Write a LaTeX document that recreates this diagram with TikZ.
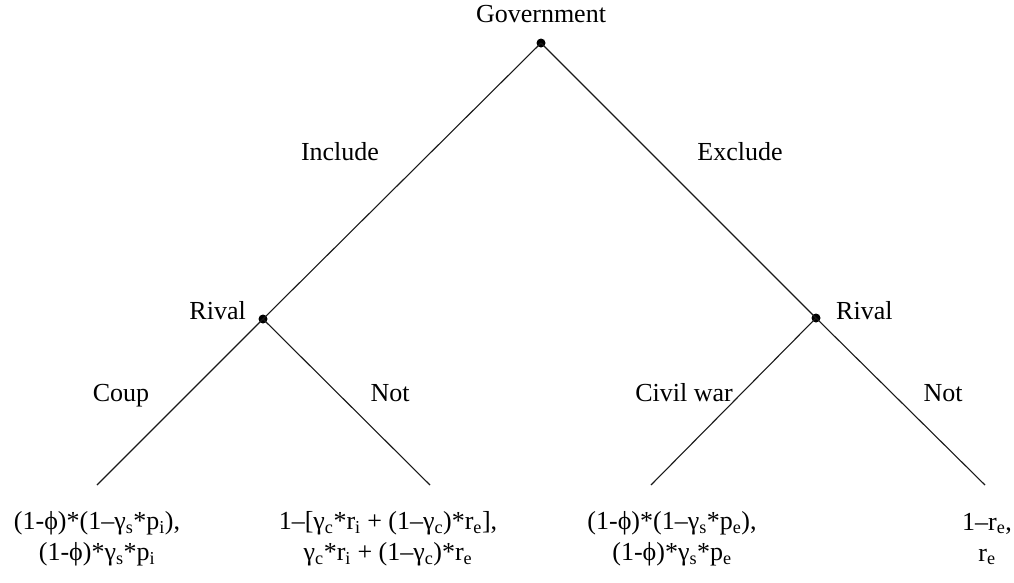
\documentclass[tikz,border=0pt]{standalone}
\usepackage{fontspec}
\setmainfont{Liberation Serif}
\newcommand\sbs[1]{\textsubscript{#1}}
\begin{document}
\begin{tikzpicture}[x=1pt,y=-1pt,
  every node/.style={font=\fontsize{26}{31}\selectfont, inner sep=0pt},
  dotnode/.style={circle, fill=black, minimum size=9pt, inner sep=0pt},
  lbl/.style={anchor=base},
  payoff/.style={align=center, anchor=center},
  branch/.style={line width=1.1pt, black!90}]
\useasboundingbox (0,0) rectangle (1014,582);
\node[dotnode] (g) at (541,43) {};
\node[dotnode] (r1) at (263,319) {};
\node[dotnode] (r2) at (816,318) {};
\coordinate (l1) at (97,485);
\coordinate (l2) at (430,485);
\coordinate (l3) at (651,485);
\coordinate (l4) at (985,485);
\draw[branch] (g.center) -- (r1.center);
\draw[branch] (g.center) -- (r2.center);
\draw[branch] (r1.center) -- (l1);
\draw[branch] (r1.center) -- (l2);
\draw[branch] (r2.center) -- (l3);
\draw[branch] (r2.center) -- (l4);
\node[lbl] (tg) at (541,22) {Government};
\node[lbl] (tinc) at (340,160) {Include};
\node[lbl] (texc) at (740,160) {Exclude};
\node[lbl, anchor=base east] (tr1) at (246,319) {Rival};
\node[lbl, anchor=base west] (tr2) at (836,319) {Rival};
\node[lbl] (tcoup) at (121,401) {Coup};
\node[lbl] (tnot1) at (390,401) {Not};
\node[lbl] (tcw) at (684,401) {Civil war};
\node[lbl] (tnot2) at (943,401) {Not};
\node[payoff] (p1) at (97,539) {(1-ϕ)*(1–γ\sbs{s}*p\sbs{i}),\\(1-ϕ)*γ\sbs{s}*p\sbs{i}};
\node[payoff] (p2) at (388,539) {1–[γ\sbs{c}*r\sbs{i} + (1–γ\sbs{c})*r\sbs{e}],\\γ\sbs{c}*r\sbs{i} + (1–γ\sbs{c})*r\sbs{e}};
\node[payoff] (p3) at (672,539) {(1-ϕ)*(1–γ\sbs{s}*p\sbs{e}),\\(1-ϕ)*γ\sbs{s}*p\sbs{e}};
\node[payoff] (p4) at (987,539) {1–r\sbs{e},\\r\sbs{e}};
\end{tikzpicture}
\end{document}
